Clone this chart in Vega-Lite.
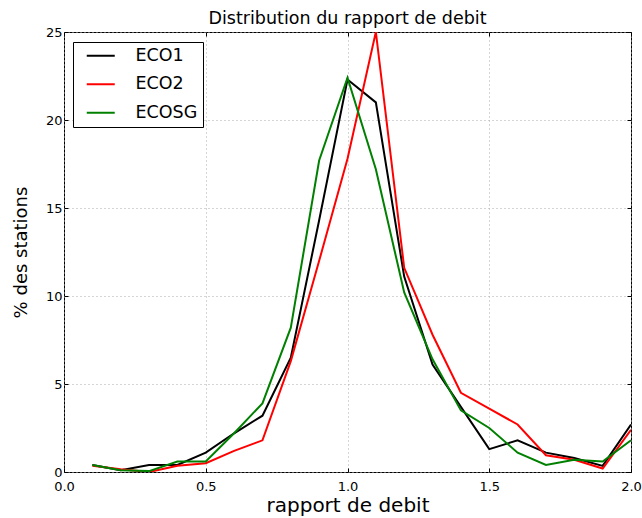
{
  "$schema": "https://vega.github.io/schema/vega-lite/v6.json",
  "autosize": "none",
  "width": 567,
  "height": 440,
  "padding": {"left": 64, "top": 32, "right": 11, "bottom": 46},
  "background": "white",
  "title": {"text": "Distribution du rapport de debit", "font": "DejaVu Sans", "fontSize": 17.5, "fontWeight": "normal", "color": "#000000", "offset": -1},
  "config": {
    "view": {"stroke": "#000000", "strokeWidth": 1},
    "font": "DejaVu Sans"
  },
  "data": {"values": [
    {"x": 0.1, "s": "ECO1", "y": 0.4}, {"x": 0.2, "s": "ECO1", "y": 0.1}, {"x": 0.3, "s": "ECO1", "y": 0.4}, {"x": 0.4, "s": "ECO1", "y": 0.4}, {"x": 0.5, "s": "ECO1", "y": 1.1},
    {"x": 0.6, "s": "ECO1", "y": 2.2}, {"x": 0.7, "s": "ECO1", "y": 3.2}, {"x": 0.8, "s": "ECO1", "y": 6.5}, {"x": 0.9, "s": "ECO1", "y": 14.3}, {"x": 1.0, "s": "ECO1", "y": 22.3},
    {"x": 1.1, "s": "ECO1", "y": 21.0}, {"x": 1.2, "s": "ECO1", "y": 11.1}, {"x": 1.3, "s": "ECO1", "y": 6.1}, {"x": 1.4, "s": "ECO1", "y": 3.7}, {"x": 1.5, "s": "ECO1", "y": 1.3},
    {"x": 1.6, "s": "ECO1", "y": 1.8}, {"x": 1.7, "s": "ECO1", "y": 1.1}, {"x": 1.8, "s": "ECO1", "y": 0.8}, {"x": 1.9, "s": "ECO1", "y": 0.35}, {"x": 2.0, "s": "ECO1", "y": 2.7},
    {"x": 0.1, "s": "ECO2", "y": 0.35}, {"x": 0.2, "s": "ECO2", "y": 0.15}, {"x": 0.3, "s": "ECO2", "y": 0.0}, {"x": 0.4, "s": "ECO2", "y": 0.35}, {"x": 0.5, "s": "ECO2", "y": 0.5},
    {"x": 0.6, "s": "ECO2", "y": 1.2}, {"x": 0.7, "s": "ECO2", "y": 1.8}, {"x": 0.8, "s": "ECO2", "y": 6.3}, {"x": 0.9, "s": "ECO2", "y": 12.0}, {"x": 1.0, "s": "ECO2", "y": 17.8},
    {"x": 1.1, "s": "ECO2", "y": 25.0}, {"x": 1.2, "s": "ECO2", "y": 11.6}, {"x": 1.3, "s": "ECO2", "y": 7.8}, {"x": 1.4, "s": "ECO2", "y": 4.5}, {"x": 1.5, "s": "ECO2", "y": 3.6},
    {"x": 1.6, "s": "ECO2", "y": 2.7}, {"x": 1.7, "s": "ECO2", "y": 0.95}, {"x": 1.8, "s": "ECO2", "y": 0.7}, {"x": 1.9, "s": "ECO2", "y": 0.2}, {"x": 2.0, "s": "ECO2", "y": 2.4},
    {"x": 0.1, "s": "ECOSG", "y": 0.4}, {"x": 0.2, "s": "ECOSG", "y": 0.1}, {"x": 0.3, "s": "ECOSG", "y": 0.05}, {"x": 0.4, "s": "ECOSG", "y": 0.6}, {"x": 0.5, "s": "ECOSG", "y": 0.6},
    {"x": 0.6, "s": "ECOSG", "y": 2.2}, {"x": 0.7, "s": "ECOSG", "y": 3.9}, {"x": 0.8, "s": "ECOSG", "y": 8.2}, {"x": 0.9, "s": "ECOSG", "y": 17.7}, {"x": 1.0, "s": "ECOSG", "y": 22.4},
    {"x": 1.1, "s": "ECOSG", "y": 17.2}, {"x": 1.2, "s": "ECOSG", "y": 10.2}, {"x": 1.3, "s": "ECOSG", "y": 6.4}, {"x": 1.4, "s": "ECOSG", "y": 3.5}, {"x": 1.5, "s": "ECOSG", "y": 2.5},
    {"x": 1.6, "s": "ECOSG", "y": 1.1}, {"x": 1.7, "s": "ECOSG", "y": 0.4}, {"x": 1.8, "s": "ECOSG", "y": 0.7}, {"x": 1.9, "s": "ECOSG", "y": 0.6}, {"x": 2.0, "s": "ECOSG", "y": 1.8}
  ]},
  "resolve": {"axis": {"x": "independent", "y": "independent"}},
  "layer": [
    {
      "mark": {"type": "line", "strokeWidth": 2, "clip": true},
      "encoding": {
        "x": {
          "field": "x", "type": "quantitative",
          "scale": {"domain": [0, 2], "nice": false, "zero": false},
          "axis": {
            "title": "rapport de debit", "titleFont": "DejaVu Sans", "titleFontSize": 20, "titleFontWeight": "normal", "titleColor": "#000000", "titlePadding": 2,
            "values": [0, 0.5, 1, 1.5, 2], "format": ".1f",
            "labelFont": "DejaVu Sans", "labelFontSize": 13, "labelColor": "#000000", "labelPadding": 12, "labelFlush": false,
            "domain": false, "ticks": true, "tickSize": -4, "tickColor": "#000000",
            "grid": true, "gridColor": "#aaaaaa", "gridDash": [1, 3], "gridWidth": 1, "gridOpacity": 1
          }
        },
        "y": {
          "field": "y", "type": "quantitative",
          "scale": {"domain": [0, 25], "nice": false},
          "axis": {
            "title": "% des stations", "titleFont": "DejaVu Sans", "titleFontSize": 18, "titleFontWeight": "normal", "titleColor": "#000000", "titlePadding": 15,
            "values": [0, 5, 10, 15, 20, 25],
            "labelFont": "DejaVu Sans", "labelFontSize": 13, "labelColor": "#000000", "labelPadding": 6,
            "domain": false, "ticks": true, "tickSize": -4, "tickColor": "#000000",
            "grid": true, "gridColor": "#aaaaaa", "gridDash": [1, 3], "gridWidth": 1, "gridOpacity": 1
          }
        },
        "color": {
          "field": "s", "type": "nominal",
          "scale": {"domain": ["ECO1", "ECO2", "ECOSG"], "range": ["#000000", "#ff0000", "#008000"]},
          "legend": {
            "title": null, "orient": "none", "legendX": 9, "legendY": 10,
            "symbolType": "M0,0H4", "symbolSize": 196, "symbolStrokeWidth": 2,
            "labelFont": "DejaVu Sans", "labelFontSize": 17.5, "labelColor": "#000000", "labelOffset": 40,
            "padding": 5, "rowPadding": 9.5,
            "strokeColor": "#000000", "fillColor": "white"
          }
        }
      }
    },
    {
      "mark": {"type": "point", "opacity": 0},
      "encoding": {
        "x": {
          "field": "x", "type": "quantitative",
          "axis": {"orient": "top", "title": null, "labels": false, "domain": false, "grid": false, "values": [0, 0.5, 1, 1.5, 2], "ticks": true, "tickSize": -4, "tickColor": "#000000"}
        },
        "y": {
          "field": "y", "type": "quantitative",
          "axis": {"orient": "right", "title": null, "labels": false, "domain": false, "grid": false, "values": [0, 5, 10, 15, 20, 25], "ticks": true, "tickSize": -4, "tickColor": "#000000"}
        }
      }
    }
  ]
}
